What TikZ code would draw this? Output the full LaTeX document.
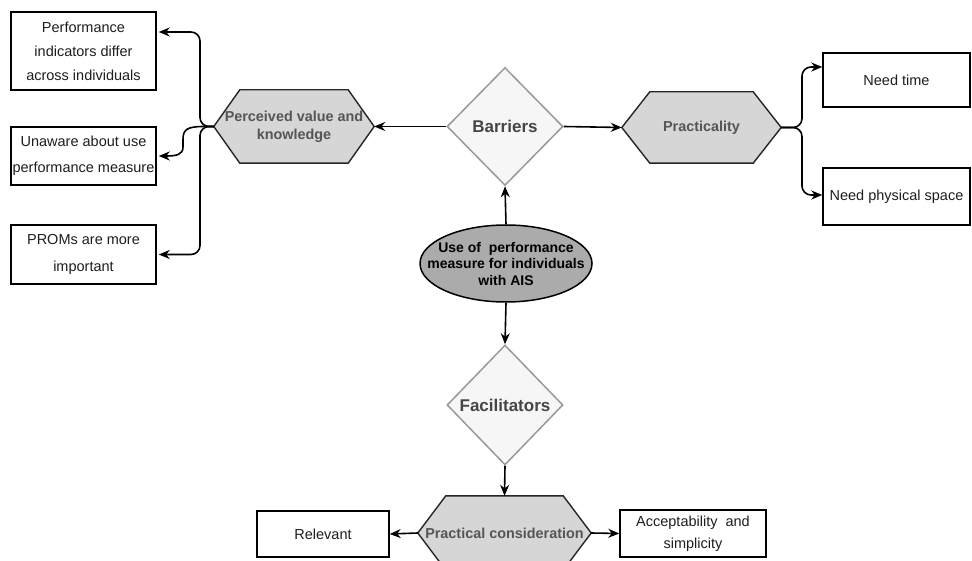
\documentclass[tikz,border=0pt]{standalone}
\usepackage{fontspec}
\setmainfont{Liberation Sans}
\usetikzlibrary{shapes.geometric,arrows.meta,calc,backgrounds}
\definecolor{hexfill}{HTML}{D6D6D6}
\definecolor{hextext}{HTML}{555555}
\definecolor{diafill}{HTML}{F6F6F6}
\definecolor{diadraw}{HTML}{999999}
\definecolor{diatext}{HTML}{454545}
\definecolor{ellfill}{HTML}{ABABAB}
\definecolor{boxtext}{HTML}{1E1E1E}
\tikzset{
  arr/.style={draw=black, line width=1.6pt, -{Stealth[length=11pt,width=9pt]}},
  leafbox/.style={draw=black, line width=1.5pt, fill=white, inner sep=0pt,
    align=center, text=boxtext, font=\fontsize{14.5}{24}\selectfont},
  hexnode/.style={inner sep=0pt, align=center, text=hextext,
    font=\bfseries\fontsize{14.4}{18}\selectfont},
  dianode/.style={diamond, draw=diadraw, fill=diafill, line width=1.5pt, inner sep=0pt,
    text=diatext, font=\bfseries\fontsize{17}{20}\selectfont},
}
\newcommand{\hexpath}[2]{%
  \begin{pgfonlayer}{background}
  \draw[fill=hexfill, draw=black!85, line width=1.4pt]
    (#1.west) -- ($(#1.north west)+(#2,0)$) -- ($(#1.north east)+(-#2,0)$) --
    (#1.east) -- ($(#1.south east)+(-#2,0)$) -- ($(#1.south west)+(#2,0)$) -- cycle;
  \end{pgfonlayer}}
\begin{document}
\begin{tikzpicture}[x=1pt,y=-1pt]
\useasboundingbox (0,0) rectangle (972,561);
\clip (0,0) rectangle (972,561);
\begin{pgfonlayer}{background}
\fill[white] (0,0) rectangle (972,561);
\end{pgfonlayer}

% left boxes
\node[leafbox, minimum width=145pt, minimum height=78pt] (b1) at (83.5,51) {Performance\\indicators differ\\across individuals};
\node[leafbox, minimum width=145pt, minimum height=58pt, font=\fontsize{14.5}{26}\selectfont] (b2) at (83.5,156) {Unaware about use\\performance measure};
\node[leafbox, minimum width=145pt, minimum height=59pt, font=\fontsize{14.5}{27}\selectfont] (b3) at (83.5,254.5) {PROMs are more\\important};

% hexagon perceived value
\node[hexnode, minimum width=160pt, minimum height=73pt] (pv) at (294,126.5) {Perceived value and\\knowledge};
\hexpath{pv}{26}

% barriers diamond
\node[dianode, minimum width=116pt, minimum height=118pt] (bar) at (505,126.5) {Barriers};

% practicality hexagon
\node[hexnode, minimum width=159pt, minimum height=71pt] (pr) at (701.5,127.5) {Practicality};
\hexpath{pr}{28}

% right boxes
\node[leafbox, minimum width=147pt, minimum height=54pt] (nt) at (896.5,80) {Need time};
\node[leafbox, minimum width=147pt, minimum height=57pt] (ns) at (896.5,196.5) {Need physical space};

% central ellipse
\node[ellipse, draw=black, fill=ellfill, line width=1.5pt, minimum width=172pt, minimum height=77pt,
  label={[align=center, font=\bfseries\fontsize{14}{16.5}\selectfont, text=black]center:Use of~ performance\\measure for individuals\\with AIS}] (use) at (506,263.5) {};

% facilitators diamond
\node[dianode, minimum width=116pt, minimum height=120pt] (fac) at (505,405) {Facilitators};

% practical consideration hexagon
\node[hexnode, minimum width=173pt, minimum height=74pt] (pc) at (504.5,533) {Practical consideration};
\hexpath{pc}{28}

% bottom boxes
\node[leafbox, minimum width=132pt, minimum height=46pt] (rel) at (323,534) {Relevant};
\node[leafbox, minimum width=146pt, minimum height=47pt, font=\fontsize{14.5}{22}\selectfont] (acc) at (693,533.5) {Acceptability~ and\\simplicity};

% connectors
\draw[arr] (use.north) -- (bar.south);
\draw[arr] (bar.east) -- (pr.west);
\draw[arr] (bar.west) -- (pv.east);
\draw[arr] (use.south) -- (fac.north);
\draw[arr] (fac.south) -- (pc.north);
\draw[arr] (pc.west) -- (rel.east);
\draw[arr] (pc.east) -- (acc.west);

% left bracket
\draw[arr, rounded corners=9pt] (pv.west) -- (200,126.5) -- (200,32) -- ($(b1.east)+(2,-19)$);
\draw[arr, rounded corners=9pt] (pv.west) -- (200,126.5) -- (200,254.5) -- ($(b3.east)+(2,0)$);
\draw[arr] (pv.west) -- (204,126.5) .. controls (186,126.5) and (183,130) .. (183,140)
  -- (183,147) .. controls (183,155) and (176,156) .. ($(b2.east)+(2,0)$);

% right bracket
\draw[arr, rounded corners=9pt] (pr.east) -- (802,127.5) -- (802,67) -- ($(nt.west)+(0,-13)$);
\draw[arr, rounded corners=9pt] (pr.east) -- (802,127.5) -- (802,195) -- ($(ns.west)+(0,-1.5)$);
\end{tikzpicture}
\end{document}
